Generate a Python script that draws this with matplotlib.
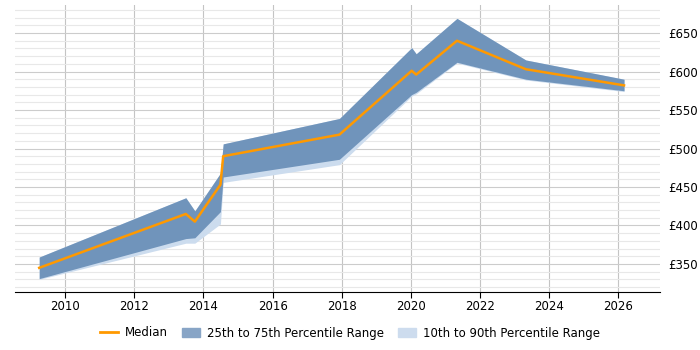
import matplotlib.pyplot as plt
from matplotlib.ticker import MultipleLocator, FuncFormatter
from matplotlib.patches import Patch
from matplotlib.lines import Line2D

# Values
years = [2009.25, 2013.49, 2013.75, 2014.49, 2014.57, 2017.93, 2020.02, 2020.15, 2021.33, 2023.32, 2026.16]
median = [345, 415, 405, 453, 490, 518, 601, 596, 640, 603, 582]
p25 = [331, 383, 384, 418, 463, 486, 570, 573, 612, 590, 575]
p75 = [359, 436, 419, 468, 506, 539, 631, 623, 669, 615, 590]
p10 = [330, 377, 377, 402, 456, 479, 568, 571, 611, 589, 574]
p90 = [359, 436, 419, 468, 506, 539, 631, 623, 669, 615, 590]

fig = plt.figure(figsize=(7, 3.5), dpi=100)
ax = fig.add_axes([15 / 700, 58 / 350, 645 / 700, 287 / 350])

ax.fill_between(years, p10, p90, color="#ccdcee", lw=0)
ax.fill_between(years, p25, p75, color="#7094bb", lw=0)
ax.plot(years, median, color="#ff9900", lw=1.8)

ax.set_xlim(2008.55, 2027.2)
ax.set_ylim(313.6, 686.4)

ax.xaxis.set_major_locator(MultipleLocator(2))
ax.yaxis.set_major_locator(MultipleLocator(50))
ax.yaxis.set_minor_locator(MultipleLocator(10))
ax.yaxis.tick_right()
ax.yaxis.set_major_formatter(FuncFormatter(lambda v, p: f"£{v:.0f}"))

ax.grid(True, which="major", axis="x", color="#c4c4c4", lw=0.8)
ax.grid(True, which="major", axis="y", color="#cccccc", lw=0.8)
ax.grid(True, which="minor", axis="y", color="#e8e8e8", lw=0.8)
ax.set_axisbelow(True)

for s in ["top", "left", "right"]:
    ax.spines[s].set_visible(False)
ax.spines["bottom"].set_color("black")

ax.tick_params(axis="x", length=4, color="black", labelsize=8.5, pad=2)
ax.tick_params(axis="y", which="both", length=0, labelsize=8.5, pad=6)

handles = [
    Line2D([0], [0], color="#ff9900", lw=2),
    Patch(color="#88a5c6"),
    Patch(color="#cddcee"),
]
labels = ["Median", "25th to 75th Percentile Range", "10th to 90th Percentile Range"]
fig.legend(handles, labels, loc="center", bbox_to_anchor=(0.5, 17 / 350), ncol=3,
           frameon=False, fontsize=8.5, handlelength=1.5, columnspacing=1.2, handletextpad=0.6)

fig.savefig("out.png", dpi=100)
